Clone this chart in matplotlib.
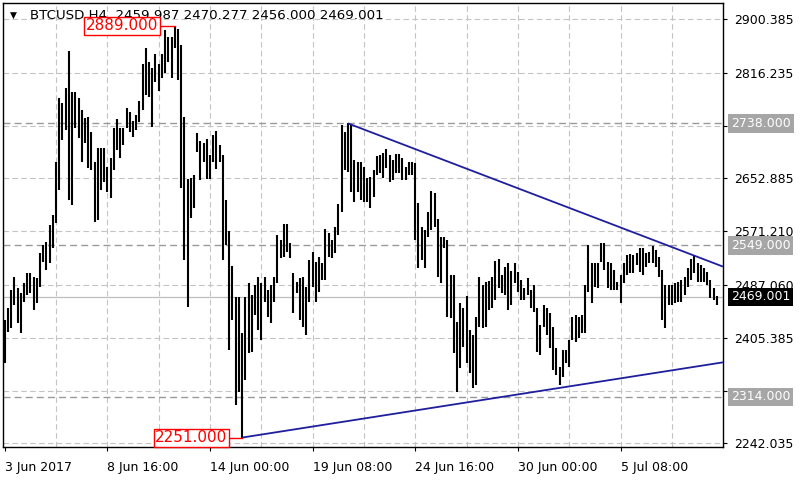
import matplotlib
matplotlib.use("Agg")
import matplotlib.pyplot as plt
import matplotlib.transforms as mtransforms
import numpy as np

# ---------------- data ----------------
symbol = "BTCUSD,H4"
last_ohlc = [2459.987, 2470.277, 2456.000, 2469.001]

bar_high = [
    2433, 2452, 2480, 2500, 2483, 2475, 2491, 2506, 2506, 2500,
    2498, 2537, 2550, 2554, 2580, 2596, 2678, 2777, 2770, 2793,
    2850, 2787, 2787, 2777, 2759, 2746, 2748, 2725, 2678, 2700,
    2700, 2700, 2670, 2684, 2731, 2745, 2731, 2731, 2762, 2756,
    2742, 2751, 2773, 2830, 2855, 2833, 2824, 2846, 2830, 2846,
    2883, 2872, 2872, 2889, 2884, 2860, 2748, 2652, 2653, 2658,
    2723, 2711, 2708, 2714, 2689, 2720, 2726, 2705, 2689, 2619,
    2571, 2517, 2469, 2469, 2413, 2469, 2491, 2472, 2488, 2500,
    2491, 2500, 2480, 2488, 2500, 2565, 2557, 2582, 2582, 2553,
    2506, 2492, 2498, 2500, 2484, 2526, 2539, 2523, 2531, 2522,
    2574, 2568, 2557, 2577, 2613, 2736, 2725, 2738, 2736, 2681,
    2678, 2678, 2670, 2653, 2655, 2666, 2687, 2689, 2692, 2698,
    2689, 2681, 2691, 2691, 2684, 2670, 2678, 2678, 2677, 2615,
    2577, 2573, 2601, 2633, 2630, 2590, 2562, 2562, 2557, 2503,
    2503, 2430, 2460, 2452, 2470, 2418, 2410, 2438, 2500, 2488,
    2492, 2494, 2500, 2525, 2528, 2503, 2515, 2522, 2509, 2522,
    2508, 2495, 2483, 2498, 2480, 2488, 2452, 2426, 2456, 2452,
    2444, 2422, 2390, 2360, 2387, 2387, 2402, 2438, 2441, 2438,
    2441, 2488, 2550, 2522, 2522, 2522, 2553, 2553, 2523, 2522,
    2511, 2492, 2503, 2522, 2534, 2536, 2534, 2537, 2545, 2545,
    2537, 2539, 2548, 2542, 2531, 2511, 2488, 2488, 2488, 2491,
    2492, 2495, 2500, 2514, 2528, 2532, 2522, 2518, 2514, 2508,
    2495, 2483, 2470.277,
]

bar_low = [
    2367, 2415, 2421, 2456, 2429, 2413, 2461, 2472, 2475, 2449,
    2460, 2484, 2523, 2511, 2522, 2545, 2584, 2635, 2712, 2728,
    2619, 2611, 2731, 2715, 2678, 2708, 2669, 2666, 2585, 2588,
    2635, 2647, 2632, 2622, 2666, 2697, 2684, 2705, 2731, 2725,
    2717, 2728, 2740, 2759, 2782, 2779, 2732, 2802, 2788, 2808,
    2816, 2833, 2808, 2855, 2805, 2638, 2526, 2453, 2591, 2607,
    2694, 2650, 2678, 2652, 2652, 2678, 2667, 2678, 2526, 2550,
    2387, 2433, 2302, 2322, 2251, 2340, 2382, 2384, 2441, 2418,
    2402, 2461, 2438, 2429, 2461, 2491, 2529, 2531, 2539, 2529,
    2444, 2475, 2433, 2422, 2410, 2461, 2484, 2461, 2477, 2495,
    2495, 2531, 2529, 2537, 2565, 2601, 2666, 2663, 2632, 2616,
    2632, 2619, 2616, 2616, 2607, 2624, 2658, 2661, 2653, 2669,
    2647, 2650, 2661, 2661, 2650, 2650, 2658, 2658, 2557, 2514,
    2526, 2514, 2562, 2573, 2577, 2500, 2491, 2545, 2438, 2436,
    2382, 2322, 2359, 2391, 2367, 2351, 2328, 2332, 2422, 2421,
    2422, 2449, 2452, 2464, 2483, 2475, 2472, 2449, 2456, 2491,
    2477, 2464, 2464, 2472, 2452, 2446, 2384, 2379, 2422, 2410,
    2390, 2356, 2348, 2332, 2345, 2367, 2360, 2402, 2399, 2405,
    2413, 2413, 2477, 2460, 2484, 2483, 2523, 2511, 2483, 2480,
    2480, 2480, 2460, 2491, 2503, 2506, 2506, 2518, 2508, 2503,
    2515, 2522, 2522, 2515, 2500, 2433, 2421, 2456, 2456, 2460,
    2461, 2461, 2472, 2484, 2495, 2506, 2492, 2492, 2492, 2488,
    2467, 2464, 2456.0,
]

xtick_bars = [0, 32, 64, 96, 128, 160, 192]
xtick_labels = ["3 Jun 2017", "8 Jun 16:00", "14 Jun 00:00", "19 Jun 08:00",
                "24 Jun 16:00", "30 Jun 00:00", "5 Jul 08:00"]
xgrid_bars = list(range(16, 224, 16))

ytick_values = [2900.385, 2816.235, 2734.560, 2652.885, 2571.210,
                2487.060, 2405.385, 2323.710, 2242.035]
ytick_hidden = [2734.560, 2323.710]   # covered by the level boxes in the reference
level_lines = [2738.0, 2549.0, 2314.0]
bid_price = last_ohlc[3]

high_mark = (53, 2889.0)
low_mark = (74, 2251.0)
upper_trend = [(107, 2738.0), (215, 2533.0)]
lower_trend = [(74, 2251.0), (173, 2328.0)]

# ---------------- figure ----------------
plt.rcParams["font.family"] = ["DejaVu Sans"]
W, H = 800, 480
fig = plt.figure(figsize=(W / 100, H / 100), dpi=100)
fig.patch.set_facecolor("white")
ax = fig.add_axes([3 / W, 33 / H, 720 / W, 444 / H])
ax.set_facecolor("white")

x_left, x_right = -0.55, 223.95
ax.set_xlim(x_left, x_right)
ax.set_ylim(2236.4, 2924.6)

grid_col = "#C4C4C4"
dash = (0, (5, 3))
for yv in ytick_values:
    ax.axhline(yv, color=grid_col, lw=0.8, ls=dash, zorder=1)
for xb in xgrid_bars:
    ax.axvline(xb, color=grid_col, lw=0.8, ls=dash, zorder=1)

for lv in level_lines:
    ax.axhline(lv, color="#9A9A9A", lw=1.0, ls=dash, zorder=1.5)
ax.axhline(bid_price, color="#BEBEBE", lw=0.9, zorder=1.5)

# bars
x = np.arange(len(bar_high))
ax.vlines(x, bar_low, bar_high, colors="black", lw=1.5, zorder=3)

# trend lines (rays to the right edge)
trend_col = "#1E1E9E"
for (x1, y1), (x2, y2) in (upper_trend, lower_trend):
    slope = (y2 - y1) / (x2 - x1)
    ax.plot([x1, x_right], [y1, y1 + slope * (x_right - x1)],
            color=trend_col, lw=1.3, zorder=4, solid_capstyle="butt")

# high / low price marks
for (bx, price), gap in ((high_mark, 5.2), (low_mark, 4.6)):
    ax.plot([bx - gap, bx], [price, price], color="red", lw=1.0, zorder=5)
    ax.text(bx - gap, price, f"{price:.3f}", ha="right", va="center",
            color="red", fontsize=11, zorder=7,
            bbox=dict(boxstyle="square,pad=0.1", fc="white", ec="red", lw=1.0))

# title
ax.text(7 / 720, 1 - 12 / 444, "\u25BC", transform=ax.transAxes, fontsize=6.5,
        va="center", ha="left", color="black", zorder=6)
ax.text(27 / 720, 1 - 12 / 444,
        f"{symbol}  " + " ".join(f"{v:.3f}" for v in last_ohlc),
        transform=ax.transAxes, fontsize=9.6, va="center", ha="left",
        color="black", zorder=6)

# axes styling
for s in ax.spines.values():
    s.set_color("black")
    s.set_linewidth(1.0)

ax.yaxis.tick_right()
ax.set_yticks(ytick_values)
ax.set_yticklabels(["" if v in ytick_hidden else f"{v:.3f}" for v in ytick_values])
ax.tick_params(axis="y", direction="out", length=3, width=0.8, pad=5,
               labelsize=9, colors="black")
ax.set_xticks(xtick_bars)
ax.set_xticklabels(xtick_labels, ha="left")
ax.tick_params(axis="x", direction="out", length=3, width=0.8, pad=7,
               labelsize=9, colors="black")
for lbl in ax.get_xticklabels():
    lbl.set_horizontalalignment("left")

# boxed price labels on the right axis
base = mtransforms.blended_transform_factory(ax.transAxes, ax.transData)
off = base + mtransforms.ScaledTranslation(8 / 100, 0, fig.dpi_scale_trans)
for lv in level_lines:
    ax.text(1.0, lv, f"{lv:.3f}", transform=off, ha="left", va="center",
            color="white", fontsize=9, zorder=8, clip_on=False,
            bbox=dict(boxstyle="square,pad=0.22", fc="#A6A6A6", ec="none"))
ax.text(1.0, bid_price, f"{bid_price:.3f}", transform=off, ha="left",
        va="center", color="white", fontsize=9, zorder=8, clip_on=False,
        bbox=dict(boxstyle="square,pad=0.22", fc="black", ec="none"))

fig.savefig("out.png", dpi=100)
